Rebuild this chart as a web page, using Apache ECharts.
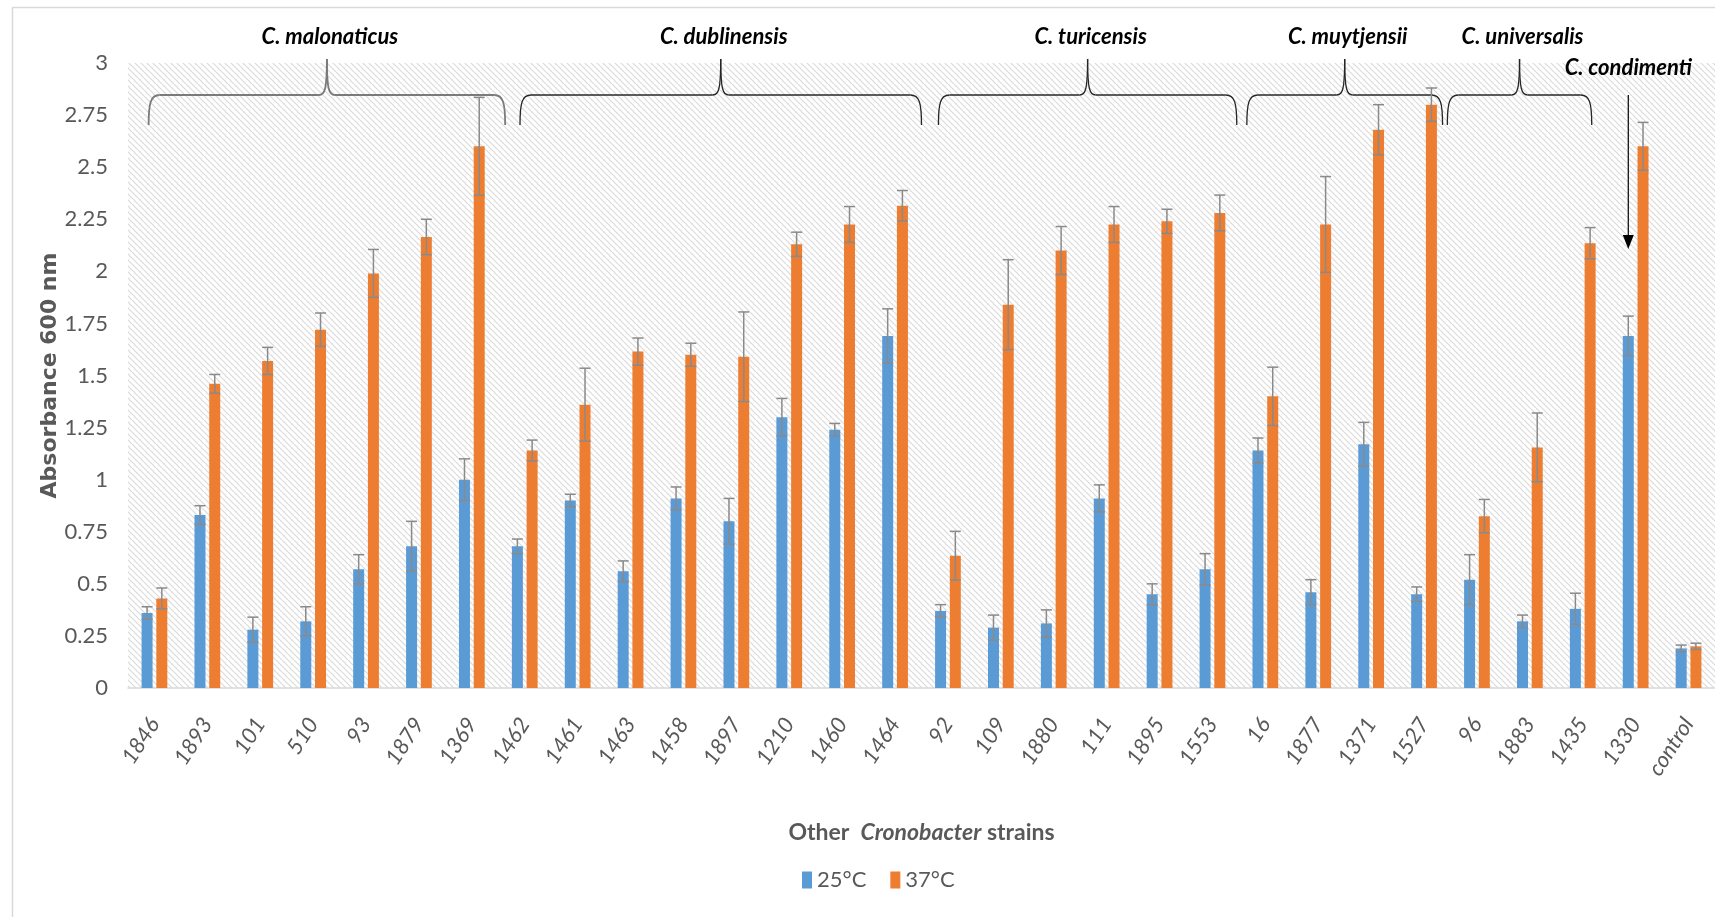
<!DOCTYPE html>
<html>
<head>
<meta charset="utf-8">
<title>Cronobacter strains – Absorbance 600 nm</title>
<script src="https://cdn.jsdelivr.net/npm/echarts@6/dist/echarts.min.js"></script>
<style>
  html, body { margin: 0; padding: 0; background: #fff; }
  #chart { width: 1715px; height: 917px; }
</style>
</head>
<body>
<div id="chart"></div>
<script>
// ---- data ----
const categories = ['1846', '1893', '101', '510', '93', '1879', '1369',
  '1462', '1461', '1463', '1458', '1897', '1210', '1460', '1464',
  '92', '109', '1880', '111', '1895', '1553',
  '16', '1877', '1371', '1527',
  '96', '1883', '1435',
  '1330', 'control'];

const seriesNames = ['25°C', '37°C'];

const abs25 = [0.36, 0.83, 0.28, 0.32, 0.57, 0.68, 1.00,
  0.68, 0.90, 0.56, 0.91, 0.80, 1.30, 1.24, 1.69,
  0.37, 0.29, 0.31, 0.91, 0.45, 0.57,
  1.14, 0.46, 1.17, 0.45,
  0.52, 0.32, 0.38,
  1.69, 0.19];
const err25 = [0.03, 0.045, 0.06, 0.07, 0.07, 0.12, 0.10,
  0.035, 0.03, 0.05, 0.055, 0.11, 0.09, 0.03, 0.13,
  0.03, 0.06, 0.065, 0.065, 0.05, 0.075,
  0.06, 0.06, 0.105, 0.035,
  0.12, 0.03, 0.075,
  0.095, 0.016];

const abs37 = [0.43, 1.46, 1.57, 1.72, 1.99, 2.165, 2.60,
  1.14, 1.36, 1.615, 1.60, 1.59, 2.13, 2.225, 2.315,
  0.635, 1.84, 2.10, 2.225, 2.24, 2.28,
  1.40, 2.225, 2.68, 2.80,
  0.825, 1.155, 2.135,
  2.60, 0.20];
const err37 = [0.05, 0.045, 0.065, 0.08, 0.115, 0.085, 0.235,
  0.05, 0.175, 0.065, 0.055, 0.215, 0.058, 0.086, 0.073,
  0.117, 0.216, 0.115, 0.086, 0.058, 0.086,
  0.14, 0.23, 0.12, 0.08,
  0.08, 0.165, 0.075,
  0.115, 0.015];

const yTicks = [0, 0.25, 0.5, 0.75, 1, 1.25, 1.5, 1.75, 2, 2.25, 2.5, 2.75, 3];

// species groups (consecutive runs of categories)
const groupNames = ['C. malonaticus', 'C. dublinensis', 'C. turicensis',
  'C. muytjensii', 'C. universalis', 'C. condimenti'];
const groupSizes = [7, 8, 6, 4, 3, 1];

// ---- layout / style ----
const FONT = "Lato, 'Liberation Sans', sans-serif";
const BLUE = '#5b9bd5';
const ORANGE = '#ed7d31';
const GREY_TXT = '#595959';
const ERR_COLOR = '#8a8a8a';
const BAR_W = 11;
const BAR_GAP = 0.34;
const GRID = { left: 128, top: 63, width: 1604, height: 625 };
// brace inset from the group's band edges, in category-band units [start, end]
const braceInset = [[0.39, 0.13], [0.41, 0.0], [0.32, -0.04], [0.15, -0.15], [-0.06, -0.33]];

// diagonal hatch used behind the plot
const tile = document.createElement('canvas');
tile.width = 6; tile.height = 6;
(function () {
  const c = tile.getContext('2d');
  c.fillStyle = '#ffffff';
  c.fillRect(0, 0, 6, 6);
  c.strokeStyle = '#dadada';
  c.lineWidth = 1.2;
  [-6, 0, 6].forEach(k => {
    c.beginPath();
    c.moveTo(k, 0);
    c.lineTo(k + 6, 6);
    c.stroke();
  });
})();

const chart = echarts.init(document.getElementById('chart'), null, { renderer: 'canvas' });

// error bar: vertical whisker with caps, shifted to the bar's slot in the band
function errorRenderer(slot) {
  return function (params, api) {
    const idx = api.value(0);
    const lo = api.coord([idx, api.value(1)]);
    const hi = api.coord([idx, api.value(2)]);
    const dx = slot * (BAR_W + BAR_W * BAR_GAP) / 2;
    const x = lo[0] + dx;
    const cap = BAR_W / 2;
    const style = { stroke: ERR_COLOR, lineWidth: 1.5, fill: null };
    return {
      type: 'group',
      children: [
        { type: 'line', shape: { x1: x, y1: hi[1], x2: x, y2: lo[1] }, style },
        { type: 'line', shape: { x1: x - cap, y1: hi[1], x2: x + cap, y2: hi[1] }, style },
        { type: 'line', shape: { x1: x - cap, y1: lo[1], x2: x + cap, y2: lo[1] }, style }
      ]
    };
  };
}

const errData25 = abs25.map((v, i) => [i, v - err25[i], v + err25[i]]);
const errData37 = abs37.map((v, i) => [i, v - err37[i], v + err37[i]]);

chart.setOption({
  animation: false,
  backgroundColor: '#ffffff',
  grid: Object.assign({
    show: true,
    backgroundColor: { image: tile, repeat: 'repeat' },
    borderWidth: 0,
    containLabel: false
  }, GRID),
  legend: {
    data: seriesNames,
    left: 797,
    top: 864,
    icon: 'rect',
    itemWidth: 10,
    itemHeight: 17,
    itemGap: 24,
    textStyle: { fontFamily: FONT, fontSize: 22, color: GREY_TXT }
  },
  xAxis: {
    type: 'category',
    data: categories,
    name: '{a|Other  }{b|Cronobacter}{a| strains}',
    nameLocation: 'middle',
    nameGap: 133,
    nameTextStyle: {
      rich: {
        a: { fontFamily: FONT, fontSize: 23, fontWeight: 'bold', color: GREY_TXT },
        b: { fontFamily: FONT, fontSize: 23, fontWeight: 'bold', fontStyle: 'italic', color: GREY_TXT }
      }
    },
    axisLine: { show: true, lineStyle: { color: '#d9d9d9', width: 1.5 } },
    axisTick: { show: false },
    axisLabel: {
      interval: 0,
      rotate: 57,
      margin: 32,
      fontFamily: FONT,
      fontStyle: 'italic',
      fontSize: 22,
      color: GREY_TXT
    }
  },
  yAxis: {
    type: 'value',
    min: yTicks[0],
    max: yTicks[yTicks.length - 1],
    interval: yTicks[1] - yTicks[0],
    name: 'Absorbance 600 nm',
    nameLocation: 'middle',
    nameGap: 67,
    nameMoveOverlap: false,
    nameTextStyle: {
      fontFamily: "'DejaVu Sans', Verdana, sans-serif",
      fontWeight: 'bold',
      fontSize: 22,
      color: GREY_TXT
    },
    axisLine: { show: false },
    axisTick: { show: false },
    splitLine: { show: false },
    axisLabel: {
      margin: 20,
      fontFamily: FONT,
      fontSize: 22,
      color: GREY_TXT
    }
  },
  series: [
    {
      name: seriesNames[0], type: 'bar', data: abs25,
      barWidth: BAR_W, barGap: (BAR_GAP * 100) + '%',
      itemStyle: { color: BLUE }
    },
    {
      name: seriesNames[1], type: 'bar', data: abs37,
      barWidth: BAR_W, barGap: (BAR_GAP * 100) + '%',
      itemStyle: { color: ORANGE }
    },
    {
      type: 'custom', name: 'err25', data: errData25,
      renderItem: errorRenderer(-1), z: 5, silent: true,
      encode: { x: 0, y: [1, 2] }
    },
    {
      type: 'custom', name: 'err37', data: errData37,
      renderItem: errorRenderer(1), z: 5, silent: true,
      encode: { x: 0, y: [1, 2] }
    }
  ]
});

// ---- species braces, labels and arrow ----
(function drawAnnotations() {
  const c0 = chart.convertToPixel({ xAxisIndex: 0 }, 0);
  const c1 = chart.convertToPixel({ xAxisIndex: 0 }, 1);
  const band = c1 - c0;
  const bandLeft = i => c0 - band / 2 + i * band;

  const yBase = GRID.top + 32;
  const yEnd = GRID.top + 62;
  const yPeak = GRID.top - 4;
  const labelY = GRID.top - 26;

  const graphics = [];
  // outer chart frame
  graphics.push({
    type: 'rect', left: 10, top: 5, silent: true,
    shape: { x: 0, y: 0, width: 1740, height: 940 },
    style: { fill: null, stroke: '#d9d9d9', lineWidth: 1.5 }
  });

  function curve(x1, y1, cpx1, cpy1, cpx2, cpy2, x2, y2, style) {
    return { type: 'bezierCurve', silent: true, shape: { x1, y1, cpx1, cpy1, cpx2, cpy2, x2, y2 }, style };
  }
  function seg(x1, y1, x2, y2, style) {
    return { type: 'line', silent: true, shape: { x1, y1, x2, y2 }, style };
  }

  const labelFont = "italic bold 22px " + FONT;
  let first = 0;
  groupSizes.forEach((n, g) => {
    const last = first + n - 1;
    if (g < braceInset.length) {
      const x0 = bandLeft(first) + braceInset[g][0] * band;
      const x1 = bandLeft(last + 1) + braceInset[g][1] * band;
      const xm = (x0 + x1) / 2;
      const st = { fill: null, stroke: g === 0 ? '#7a7a7a' : '#262626', lineWidth: g === 0 ? 1.8 : 1.3 };
      graphics.push({
        type: 'group', silent: true,
        children: [
          curve(x0, yEnd, x0, yBase + 8, x0 + 2, yBase, x0 + 11, yBase, st),
          seg(x0 + 11, yBase, xm - 8, yBase, st),
          curve(xm - 8, yBase, xm - 2, yBase, xm, yBase - 6, xm, yPeak, st),
          curve(xm, yPeak, xm, yBase - 6, xm + 2, yBase, xm + 8, yBase, st),
          seg(xm + 8, yBase, x1 - 11, yBase, st),
          curve(x1 - 11, yBase, x1 - 2, yBase, x1, yBase + 8, x1, yEnd, st)
        ]
      });
      graphics.push({
        type: 'text', silent: true,
        x: xm + 3, y: labelY,
        style: { text: groupNames[g], font: labelFont, fill: '#000', align: 'center', verticalAlign: 'middle' }
      });
    } else {
      // single-strain group: label with an arrow down to the 25°C bar
      const cx = chart.convertToPixel({ xAxisIndex: 0 }, first) - (BAR_W + BAR_W * BAR_GAP) / 2;
      graphics.push({
        type: 'text', silent: true,
        x: cx, y: GRID.top + 5,
        style: { text: groupNames[g], font: labelFont, fill: '#000', align: 'center', verticalAlign: 'middle' }
      });
      const yA = GRID.top + 32;
      const yTip = GRID.top + 186;
      graphics.push(seg(cx, yA, cx, yTip - 8, { stroke: '#000', lineWidth: 1.2 }));
      graphics.push({
        type: 'polygon', silent: true,
        shape: { points: [[cx - 5.5, yTip - 14], [cx + 5.5, yTip - 14], [cx, yTip]] },
        style: { fill: '#000' }
      });
    }
    first = last + 1;
  });

  chart.setOption({ graphic: graphics });
})();
</script>
</body>
</html>
